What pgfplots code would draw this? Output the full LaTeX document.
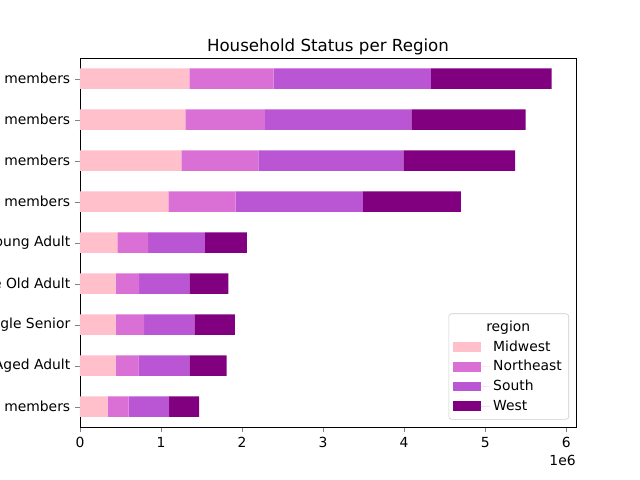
\documentclass[border=0pt]{standalone}
\usepackage{pgfplots}
\pgfplotsset{compat=1.18}
\usepackage{fontspec}
\setmainfont{DejaVu Sans}

\definecolor{cMid}{HTML}{FFC0CB}
\definecolor{cNE}{HTML}{DA70D6}
\definecolor{cSo}{HTML}{BA55D3}
\definecolor{cWe}{HTML}{800080}

\begin{document}
\begin{tikzpicture}
\begin{axis}[
  scale only axis, width=357.1pt, height=265.7pt,
  xbar stacked, bar width=0.5,
  xmin=0, xmax=6.12, ymin=-0.5, ymax=8.5,
  xtick={0,1,2,3,4,5,6},
  ytick={0,1,2,3,4,5,6,7,8},
  yticklabels={members, Aged Adult, gle Senior, e Old Adult, oung Adult, members, members, members, members},
  tick align=outside, major tick length=3.5pt,
  xtick pos=bottom, ytick pos=left,
  /pgf/number format/assume math mode=true,
  tick label style={font=\fontsize{10}{12}\selectfont},
  title={Household Status per Region},
  title style={font=\fontsize{12}{14}\selectfont, yshift=-7pt},
  legend cell align=left,
  legend style={at={(1,0)}, anchor=south east, xshift=-5pt, yshift=5.5pt,
    draw=black!20, rounded corners=2pt, fill=white,
    font=\fontsize{10}{12}\selectfont, row sep=1.2pt, inner sep=3pt},
  legend image code/.code={\fill[#1, sharp corners] (0cm,-3.5pt) rectangle (20pt,3.5pt);
    \path (20pt,0) -- (27pt,0);},
]
\addlegendimage{empty legend}
\addlegendentry{\hspace{-5pt}region}
\addplot[fill=cMid, draw=none] coordinates {(0.34,0) (0.44,1) (0.44,2) (0.44,3) (0.46,4) (1.09,5) (1.25,6) (1.30,7) (1.35,8)};
\addlegendentry{Midwest}
\addplot[fill=cNE, draw=none] coordinates {(0.26,0) (0.28,1) (0.35,2) (0.29,3) (0.38,4) (0.83,5) (0.95,6) (0.98,7) (1.04,8)};
\addlegendentry{Northeast}
\addplot[fill=cSo, draw=none] coordinates {(0.50,0) (0.63,1) (0.62,2) (0.62,3) (0.70,4) (1.57,5) (1.79,6) (1.81,7) (1.94,8)};
\addlegendentry{South}
\addplot[fill=cWe, draw=none] coordinates {(0.37,0) (0.46,1) (0.50,2) (0.48,3) (0.52,4) (1.21,5) (1.38,6) (1.41,7) (1.49,8)};
\addlegendentry{West}
\coordinate (sw) at (rel axis cs:0,0);
\coordinate (se) at (rel axis cs:1,0);
\end{axis}
\node[anchor=north east, font=\fontsize{10}{12}\selectfont, inner sep=0pt] at ([yshift=-20pt]se) {1e6};
\pgfresetboundingbox
\path[use as bounding box] ([xshift=-57.6pt,yshift=-38.0pt]sw) rectangle ++(460.8pt,345.6pt);
\end{tikzpicture}
\end{document}
